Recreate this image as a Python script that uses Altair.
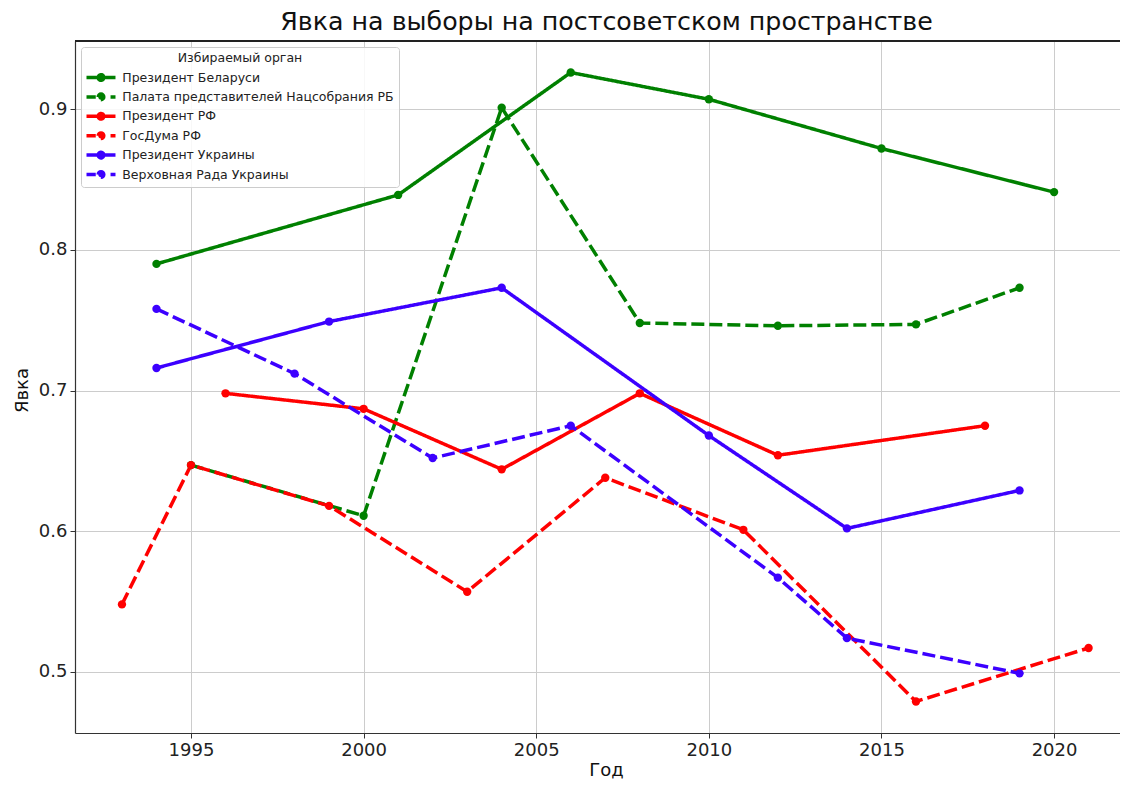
import altair as alt
import pandas as pd

names = [
    "Президент Беларуси",
    "Палата представителей Нацсобрания РБ",
    "Президент РФ",
    "ГосДума РФ",
    "Президент Украины",
    "Верховная Рада Украины",
]
colors = ["#008000", "#008000", "#ff0000", "#ff0000", "#3c00ff", "#3c00ff"]
dashes = [[1, 0], [13, 5], [1, 0], [13, 5], [1, 0], [13, 5]]

DOT = "M-0.75,0A0.75,0.75,0,1,1,0.75,0A0.75,0.75,0,1,1,-0.75,0Z"
SOLID_SWATCH = "M-3.875,0L3.875,0" + DOT
DASHED_SWATCH = "M-3.875,0L-1.4,0M2.55,0L3.875,0" + DOT
swatches = [SOLID_SWATCH, DASHED_SWATCH, SOLID_SWATCH, DASHED_SWATCH, SOLID_SWATCH, DASHED_SWATCH]

by_pres_years = [1994, 2001, 2006, 2010, 2015, 2020]
by_pres_vals = [0.790, 0.839, 0.926, 0.907, 0.872, 0.841]

by_parl_years = [1995, 2000, 2004, 2008, 2012, 2016, 2019]
by_parl_vals = [0.647, 0.611, 0.901, 0.748, 0.746, 0.747, 0.773]

ru_pres_years = [1996, 2000, 2004, 2008, 2012, 2018]
ru_pres_vals = [0.698, 0.687, 0.644, 0.698, 0.654, 0.675]

ru_duma_years = [1993, 1995, 1999, 2003, 2007, 2011, 2016, 2021]
ru_duma_vals = [0.548, 0.647, 0.618, 0.557, 0.638, 0.601, 0.479, 0.517]

ua_pres_years = [1994, 1999, 2004, 2010, 2014, 2019]
ua_pres_vals = [0.716, 0.749, 0.773, 0.668, 0.602, 0.629]

ua_rada_years = [1994, 1998, 2002, 2006, 2012, 2014, 2019]
ua_rada_vals = [0.758, 0.712, 0.652, 0.675, 0.567, 0.524, 0.499]

all_years = [by_pres_years, by_parl_years, ru_pres_years, ru_duma_years, ua_pres_years, ua_rada_years]
all_vals = [by_pres_vals, by_parl_vals, ru_pres_vals, ru_duma_vals, ua_pres_vals, ua_rada_vals]

x_ticks = [1995, 2000, 2005, 2010, 2015, 2020]
y_ticks = [0.5, 0.6, 0.7, 0.8, 0.9]

rows = []
for i, (n, ys, vs) in enumerate(zip(names, all_years, all_vals)):
    for yr, v in zip(ys, vs):
        rows.append({"series": n, "year": yr, "value": v, "idx": i})
df = pd.DataFrame(rows)

W, H = 1045, 692
FONT = "DejaVu Sans"

x = alt.X(
    "year:Q",
    scale=alt.Scale(domain=[1991.64, 2021.91], nice=False, zero=False),
    axis=alt.Axis(
        values=x_ticks, format="d", title="Год", grid=True,
        titleX=531, titleY=37, titleAlign="center", titleBaseline="middle",
    ),
)
y = alt.Y(
    "value:Q",
    scale=alt.Scale(domain=[0.4566, 0.9484], nice=False, zero=False),
    axis=alt.Axis(
        values=y_ticks, format=".1f", title="Явка", grid=True,
        titleX=-53, titleY=349, titleAlign="center", titleBaseline="middle", titleAngle=270,
    ),
)

legend = alt.Legend(
    title="Избираемый орган",
    orient="none",
    legendX=6,
    legendY=6,
    symbolSize=56,
    symbolStrokeWidth=3.5,
    symbolOpacity=1,
    symbolOffset=8.75,
    clipHeight=14,
    labelFontSize=12.5,
    labelFont=FONT,
    labelColor="#222222",
    labelLimit=0,
    labelOffset=15,
    titleFontSize=12.5,
    titleFont=FONT,
    titleFontWeight="normal",
    titleColor="#222222",
    titleAnchor="middle",
    titlePadding=6,
    rowPadding=5.4,
    padding=5,
    fillColor="rgba(255,255,255,0.85)",
    strokeColor="#cccccc",
    cornerRadius=3,
)

color = alt.Color("series:N", scale=alt.Scale(domain=names, range=colors), legend=legend)
dash = alt.StrokeDash("series:N", scale=alt.Scale(domain=names, range=dashes), legend=None)
shape = alt.Shape("series:N", scale=alt.Scale(domain=names, range=swatches), legend=legend)

lines = alt.Chart(df).mark_line(strokeWidth=3.5).encode(
    x=x, y=y, color=color, strokeDash=dash, order="year:Q"
)
points = alt.Chart(df).mark_point(filled=True, size=70, opacity=1).encode(
    x=x, y=y, color=color
)
legend_layer = alt.Chart(df).mark_point(filled=True, size=56, opacity=0).encode(
    x=x, y=y, color=color, shape=shape
)
frame_top = alt.Chart(df).mark_rule(color="#222222", strokeWidth=1.2).encode(
    x=alt.value(0), x2=alt.value(W), y=alt.value(0)
)

chart = (
    alt.layer(lines, points, legend_layer, frame_top)
    .properties(
        width=W,
        height=H,
        autosize=alt.AutoSizeParams(type="none"),
        padding={"left": 67, "top": 33, "right": 0, "bottom": 46},
        title=alt.TitleParams(
            "Явка на выборы на постсоветском пространстве",
            fontSize=25.3, font=FONT, fontWeight="normal", color="#111111",
            anchor="middle", frame="group", dx=9, dy=22, offset=7, baseline="alphabetic",
        ),
    )
    .configure_view(stroke=None)
    .configure_axis(
        labelFont=FONT, labelFontSize=18, labelColor="#222222",
        titleFont=FONT, titleFontSize=18, titleFontWeight="normal", titleColor="#111111",
        tickSize=5, tickColor="#333333", domainColor="#333333", domainWidth=1.2,
        gridColor="#cccccc", gridWidth=1, labelPadding=3,
    )
)

chart.save("out.html", embed_options={"renderer": "svg", "actions": False})
